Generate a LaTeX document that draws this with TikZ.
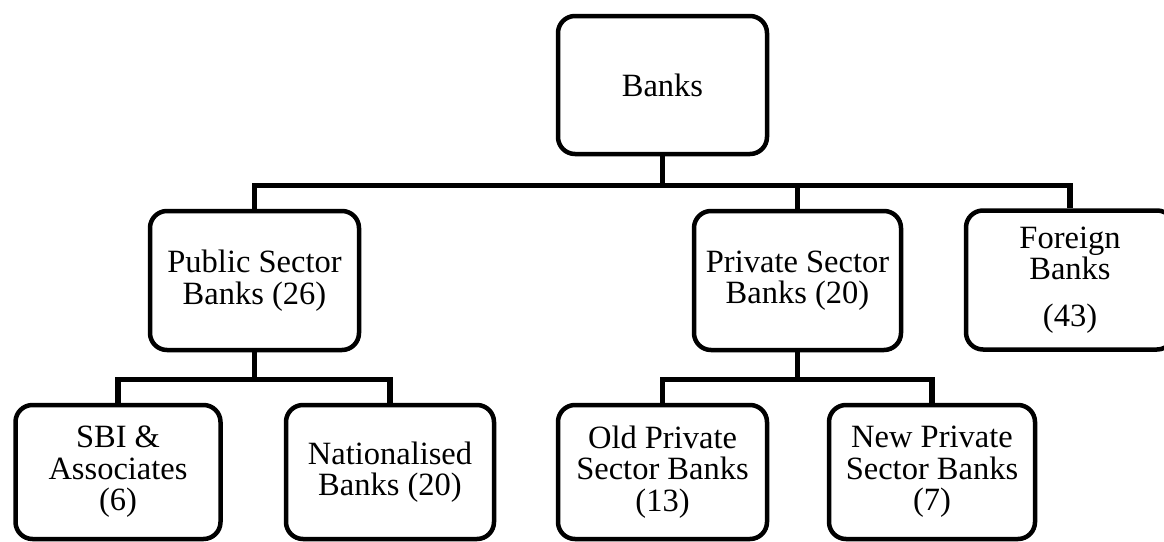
\documentclass[tikz,border=0pt]{standalone}
\usepackage{fontspec}
\setmainfont{Liberation Serif}
\begin{document}
\begin{tikzpicture}[x=1pt,y=-1pt,
  bankbox/.style={draw, line width=4.5pt, rounded corners=17pt, inner sep=0pt,
    minimum width=207pt, align=center, font=\fontsize{32.5}{31.5}\selectfont},
  midbox/.style={bankbox, minimum height=139pt},
  lowbox/.style={bankbox, minimum height=134pt},
  link/.style={line width=5.5pt, line join=miter}]
\useasboundingbox (0,0) rectangle (1164,541);
\clip (0,0) rectangle (1164,541);
\node[bankbox, minimum width=209pt, minimum height=138pt] (banks) at (662.5,85) {Banks};
\node[midbox, minimum width=209pt] (pub) at (254.5,280.5) {Public Sector\\Banks (26)};
\node[midbox] (priv) at (797.5,280.5) {Private Sector\\Banks (20)};
\node[midbox, minimum width=208pt] (for) at (1070,280) {Foreign\\Banks\\[15pt](43)};
\node[lowbox, minimum width=205pt] (sbi) at (118,472) {SBI \&\\Associates\\(6)};
\node[lowbox, minimum width=208pt] (nat) at (390,472) {Nationalised\\Banks (20)};
\node[lowbox, minimum width=209pt] (old) at (662.5,472) {Old Private\\Sector Banks\\(13)};
\node[lowbox, minimum width=206pt] (new) at (932,472) {New Private\\Sector Banks\\(7)};
\draw[link] (banks.south) -- ++(0,29) coordinate (hub);
\draw[link] (pub.north) |- (hub) -| (for.north);
\draw[link] (hub) -| (priv.north);
\draw[link] (pub.south) -- ++(0,27) coordinate (hubA);
\draw[link] (sbi.north) |- (hubA) -| (nat.north);
\draw[link] (priv.south) -- ++(0,27) coordinate (hubB);
\draw[link] (old.north) |- (hubB) -| (new.north);
\end{tikzpicture}
\end{document}
